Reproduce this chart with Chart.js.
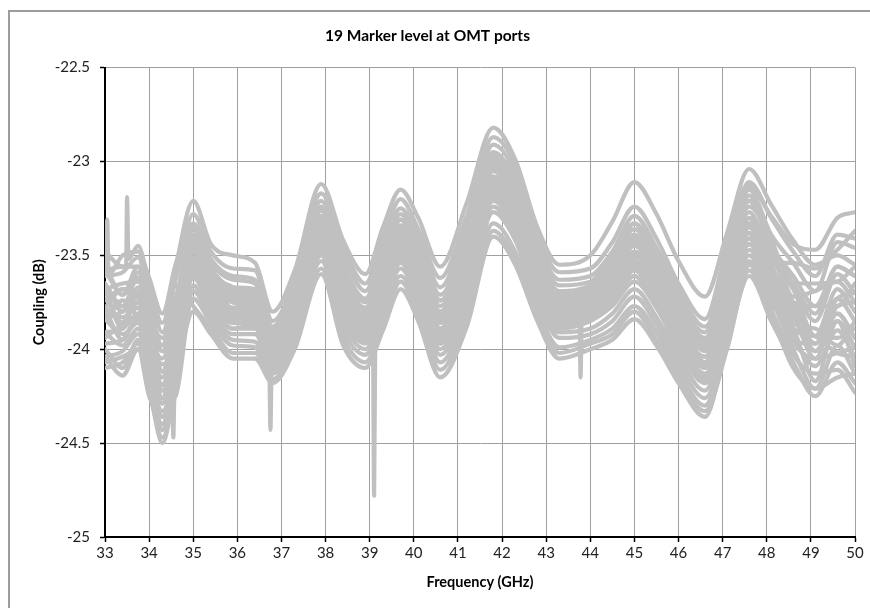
<!DOCTYPE html>
<html><head><meta charset="utf-8">
<script src="https://cdn.jsdelivr.net/npm/chart.js@4.4.1/dist/chart.umd.min.js"></script>
<style>
html,body{margin:0;padding:0;background:#fff;overflow:hidden;}
#wrap{position:relative;width:870px;height:608px;}
#frame{position:absolute;left:8px;top:10px;width:900px;height:700px;border-left:2px solid #9c9c9c;border-top:2px solid #9c9c9c;box-sizing:border-box;}
canvas{position:absolute;left:0;top:0;}
</style></head><body>
<div id="wrap"><div id="frame"></div><canvas id="c" width="870" height="608"></canvas></div>
<script>
const chartTitle = '19 Marker level at OMT ports';
const xTitle = 'Frequency (GHz)';
const yTitle = 'Coupling (dB)';
const xTickValues = [33,34,35,36,37,38,39,40,41,42,43,44,45,46,47,48,49,50];
const xTickLabels = ['33','34','35','36','37','38','39','40','41','42','43','44','45','46','47','48','49','50'];
const yTickValues = [-25,-24.5,-24,-23.5,-23,-22.5];
const yTickLabels = ['-25','-24.5','-24','-23.5','-23','-22.5'];

// frequency samples (GHz)
const freqs = [33.0,33.4,33.75,34.0,34.3,34.6,35.0,35.4,35.9,36.4,36.8,37.3,37.9,38.4,38.9,39.3,39.7,40.1,40.6,41.2,41.8,42.3,42.8,43.3,44.0,44.5,45.0,45.5,46.0,46.6,47.1,47.6,48.1,48.6,49.1,49.6,50.0];

// coupling (dB) per marker trace
const trace01 = [-23.48,-23.56,-23.45,-23.65,-23.86,-23.56,-23.21,-23.44,-23.50,-23.54,-23.80,-23.58,-23.12,-23.42,-23.60,-23.35,-23.15,-23.30,-23.56,-23.22,-22.82,-22.99,-23.35,-23.55,-23.50,-23.32,-23.11,-23.28,-23.53,-23.72,-23.38,-23.04,-23.23,-23.42,-23.55,-23.50,-23.55];
const trace02 = [-23.58,-23.56,-23.56,-23.68,-23.91,-23.63,-23.28,-23.48,-23.57,-23.58,-23.85,-23.63,-23.17,-23.46,-23.65,-23.41,-23.20,-23.36,-23.62,-23.29,-22.87,-23.02,-23.39,-23.59,-23.57,-23.43,-23.24,-23.41,-23.65,-23.84,-23.45,-23.11,-23.30,-23.48,-23.61,-23.39,-23.41];
const trace03 = [-23.52,-23.50,-23.48,-23.62,-23.81,-23.55,-23.33,-23.52,-23.61,-23.63,-23.88,-23.66,-23.21,-23.50,-23.69,-23.45,-23.25,-23.40,-23.67,-23.34,-22.91,-23.06,-23.43,-23.63,-23.61,-23.48,-23.29,-23.46,-23.69,-23.88,-23.57,-23.21,-23.42,-23.65,-23.65,-23.64,-23.56];
const trace04 = [-23.68,-23.65,-23.64,-23.78,-24.01,-23.76,-23.35,-23.54,-23.63,-23.65,-23.89,-23.68,-23.24,-23.55,-23.73,-23.49,-23.28,-23.44,-23.71,-23.39,-22.95,-23.10,-23.46,-23.66,-23.64,-23.51,-23.33,-23.49,-23.73,-23.91,-23.47,-23.13,-23.29,-23.44,-23.47,-23.30,-23.27];
const trace05 = [-23.58,-23.71,-23.56,-23.81,-23.94,-23.73,-23.39,-23.57,-23.67,-23.68,-23.91,-23.71,-23.26,-23.57,-23.75,-23.52,-23.31,-23.47,-23.74,-23.42,-22.98,-23.13,-23.49,-23.69,-23.66,-23.53,-23.36,-23.52,-23.75,-23.94,-23.60,-23.27,-23.51,-23.68,-23.85,-23.60,-23.70];
const trace06 = [-23.78,-23.68,-23.70,-23.84,-24.12,-23.83,-23.41,-23.59,-23.69,-23.70,-23.93,-23.72,-23.29,-23.61,-23.78,-23.55,-23.34,-23.50,-23.77,-23.46,-23.01,-23.16,-23.51,-23.71,-23.68,-23.56,-23.39,-23.55,-23.78,-23.96,-23.54,-23.15,-23.39,-23.54,-23.69,-23.43,-23.46];
const trace07 = [-23.65,-23.77,-23.62,-23.90,-24.05,-23.80,-23.43,-23.61,-23.71,-23.72,-23.94,-23.74,-23.31,-23.63,-23.80,-23.57,-23.36,-23.52,-23.80,-23.48,-23.03,-23.18,-23.53,-23.73,-23.70,-23.59,-23.42,-23.57,-23.80,-23.99,-23.66,-23.33,-23.57,-23.75,-23.93,-23.68,-23.80];
const trace08 = [-23.84,-23.80,-23.75,-23.94,-24.22,-23.90,-23.46,-23.63,-23.73,-23.74,-23.96,-23.76,-23.33,-23.66,-23.82,-23.59,-23.38,-23.54,-23.82,-23.51,-23.05,-23.20,-23.55,-23.75,-23.72,-23.61,-23.45,-23.60,-23.83,-24.01,-23.63,-23.21,-23.45,-23.61,-23.77,-23.56,-23.61];
const trace09 = [-23.71,-23.86,-23.67,-23.97,-24.15,-23.87,-23.48,-23.65,-23.75,-23.76,-23.98,-23.77,-23.35,-23.68,-23.84,-23.61,-23.40,-23.56,-23.84,-23.54,-23.08,-23.23,-23.57,-23.77,-23.74,-23.64,-23.48,-23.63,-23.86,-24.04,-23.72,-23.38,-23.63,-23.82,-24.01,-23.81,-23.94];
const trace10 = [-23.91,-23.89,-23.81,-24.00,-24.29,-23.97,-23.51,-23.67,-23.78,-23.79,-23.99,-23.79,-23.37,-23.70,-23.86,-23.63,-23.42,-23.58,-23.86,-23.56,-23.10,-23.25,-23.59,-23.79,-23.76,-23.66,-23.50,-23.66,-23.88,-24.07,-23.69,-23.30,-23.48,-23.75,-23.77,-23.77,-23.65];
const trace11 = [-23.78,-23.83,-23.78,-24.06,-24.19,-24.01,-23.53,-23.69,-23.80,-23.81,-24.01,-23.81,-23.38,-23.72,-23.88,-23.65,-23.44,-23.60,-23.89,-23.58,-23.12,-23.27,-23.61,-23.81,-23.78,-23.68,-23.53,-23.68,-23.90,-24.09,-23.78,-23.44,-23.66,-23.93,-24.09,-23.90,-24.04];
const trace12 = [-23.97,-23.95,-23.84,-24.03,-24.36,-24.04,-23.55,-23.71,-23.82,-23.83,-24.02,-23.82,-23.40,-23.74,-23.89,-23.67,-23.46,-23.62,-23.90,-23.60,-23.15,-23.30,-23.63,-23.83,-23.79,-23.70,-23.55,-23.70,-23.92,-24.10,-23.75,-23.35,-23.60,-23.79,-23.97,-23.73,-23.85];
const trace13 = [-23.84,-23.92,-23.86,-24.12,-24.26,-24.08,-23.58,-23.73,-23.84,-23.85,-24.04,-23.84,-23.42,-23.76,-23.91,-23.69,-23.48,-23.64,-23.93,-23.63,-23.17,-23.32,-23.65,-23.85,-23.81,-23.72,-23.58,-23.73,-23.95,-24.13,-23.85,-23.50,-23.73,-24.00,-24.21,-23.98,-24.13];
const trace14 = [-24.04,-24.01,-23.92,-24.09,-24.43,-24.11,-23.60,-23.75,-23.86,-23.87,-24.05,-23.86,-23.44,-23.78,-23.93,-23.71,-23.50,-23.66,-23.95,-23.66,-23.19,-23.34,-23.67,-23.87,-23.83,-23.75,-23.61,-23.76,-23.97,-24.16,-23.81,-23.41,-23.60,-23.89,-23.93,-23.94,-23.89];
const trace15 = [-23.91,-23.98,-23.89,-24.16,-24.40,-24.04,-23.62,-23.77,-23.89,-23.89,-24.07,-23.87,-23.46,-23.81,-23.95,-23.74,-23.52,-23.69,-23.97,-23.68,-23.21,-23.36,-23.69,-23.89,-23.85,-23.77,-23.64,-23.78,-24.00,-24.18,-23.91,-23.53,-23.79,-24.03,-24.13,-24.11,-24.23];
const trace16 = [-24.00,-24.10,-23.95,-24.19,-24.50,-24.18,-23.66,-23.80,-23.92,-23.92,-24.09,-23.90,-23.48,-23.83,-23.97,-23.76,-23.54,-23.71,-24.00,-23.71,-23.24,-23.39,-23.71,-23.91,-23.89,-23.81,-23.68,-23.83,-24.04,-24.22,-23.88,-23.47,-23.70,-23.96,-24.05,-24.02,-23.99];
const trace17 = [-24.07,-24.04,-24.00,-24.25,-24.36,-24.25,-23.69,-23.83,-23.95,-23.96,-24.11,-23.92,-23.50,-23.86,-24.00,-23.79,-23.57,-23.74,-24.03,-23.75,-23.27,-23.42,-23.74,-23.94,-23.92,-23.85,-23.72,-23.87,-24.08,-24.26,-23.97,-23.61,-23.85,-24.07,-24.25,-24.07,-24.18];
const trace18 = [-24.10,-24.07,-23.97,-24.22,-24.47,-24.22,-23.73,-23.86,-23.98,-23.99,-24.13,-23.95,-23.53,-23.90,-24.03,-23.82,-23.61,-23.77,-24.07,-23.79,-23.33,-23.48,-23.79,-23.99,-23.95,-23.89,-23.77,-23.91,-24.12,-24.30,-23.94,-23.55,-23.76,-23.89,-24.17,-23.85,-24.09];
const trace19 = [-23.61,-23.59,-23.51,-23.75,-23.98,-23.66,-23.77,-23.89,-24.02,-24.02,-24.16,-23.98,-23.57,-23.94,-24.07,-23.86,-23.64,-23.81,-24.11,-23.83,-23.37,-23.52,-23.82,-24.02,-23.97,-23.92,-23.80,-23.95,-24.15,-24.33,-24.00,-23.58,-23.82,-24.10,-24.21,-24.15,-24.13];
const trace20 = [-24.04,-24.14,-24.00,-24.19,-24.43,-24.15,-23.80,-23.92,-24.05,-24.05,-24.18,-24.00,-23.60,-23.98,-24.10,-23.90,-23.68,-23.85,-24.15,-23.88,-23.40,-23.55,-23.85,-24.05,-24.00,-23.95,-23.84,-23.98,-24.18,-24.36,-23.95,-23.55,-23.54,-23.54,-23.57,-23.47,-23.37];
const trace21 = [-23.65,-23.80,-23.59,-23.87,-24.19,-23.87,-23.42,-23.65,-23.78,-23.73,-24.01,-23.79,-23.26,-23.63,-23.78,-23.60,-23.36,-23.58,-23.83,-23.58,-23.02,-23.14,-23.58,-23.80,-23.77,-23.60,-23.40,-23.63,-23.82,-24.07,-23.69,-23.30,-23.60,-23.79,-24.01,-23.85,-23.99];
const trace22 = [-23.74,-23.68,-23.73,-23.84,-24.01,-23.94,-23.39,-23.60,-23.67,-23.76,-23.93,-23.75,-23.31,-23.69,-23.83,-23.54,-23.31,-23.49,-23.80,-23.45,-22.97,-23.20,-23.50,-23.73,-23.66,-23.51,-23.44,-23.53,-23.86,-23.98,-23.57,-23.24,-23.42,-23.72,-23.69,-23.64,-23.75];
const trace23 = [-23.84,-23.74,-23.84,-23.97,-24.08,-23.97,-23.48,-23.70,-23.83,-23.81,-23.97,-23.83,-23.36,-23.72,-23.90,-23.63,-23.44,-23.55,-23.89,-23.55,-23.08,-23.26,-23.63,-23.78,-23.71,-23.67,-23.48,-23.70,-23.89,-24.04,-23.75,-23.35,-23.54,-23.86,-23.89,-23.98,-23.85];
const trace24 = [-23.68,-23.89,-23.70,-24.00,-24.29,-23.90,-23.51,-23.72,-23.86,-23.84,-24.03,-23.85,-23.41,-23.78,-23.88,-23.68,-23.48,-23.63,-23.91,-23.65,-23.14,-23.32,-23.65,-23.83,-23.79,-23.73,-23.56,-23.67,-23.92,-24.14,-23.72,-23.38,-23.66,-23.82,-24.05,-23.77,-23.75];
const trace25 = [-23.55,-23.71,-23.62,-23.75,-24.12,-23.80,-23.36,-23.57,-23.72,-23.71,-23.91,-23.77,-23.29,-23.57,-23.80,-23.57,-23.39,-23.52,-23.74,-23.48,-22.99,-23.17,-23.53,-23.75,-23.69,-23.54,-23.33,-23.56,-23.76,-24.01,-23.63,-23.18,-23.45,-23.65,-23.81,-23.56,-23.61];
const trace26 = [-23.81,-23.77,-23.78,-23.90,-24.26,-23.83,-23.45,-23.67,-23.75,-23.79,-23.99,-23.81,-23.34,-23.66,-23.85,-23.65,-23.42,-23.60,-23.86,-23.52,-23.05,-23.23,-23.55,-23.80,-23.74,-23.64,-23.51,-23.60,-23.86,-24.10,-23.66,-23.33,-23.51,-23.68,-23.93,-23.73,-23.70];
const trace27 = [-23.94,-23.86,-23.75,-24.09,-24.33,-24.11,-23.56,-23.75,-23.89,-23.87,-24.05,-23.87,-23.43,-23.75,-23.93,-23.74,-23.51,-23.66,-23.97,-23.62,-23.20,-23.33,-23.68,-23.85,-23.82,-23.70,-23.61,-23.77,-23.95,-24.17,-23.81,-23.41,-23.70,-23.89,-23.93,-24.02,-24.04];
const trace28 = [-23.78,-23.95,-23.81,-23.94,-24.22,-24.04,-23.54,-23.62,-23.80,-23.84,-23.95,-23.77,-23.38,-23.81,-23.85,-23.65,-23.46,-23.69,-23.91,-23.58,-23.11,-23.29,-23.60,-23.88,-23.84,-23.67,-23.53,-23.74,-23.99,-24.07,-23.78,-23.44,-23.57,-23.96,-23.97,-23.81,-23.94];

// narrow glitches seen on single traces: [frequency, dB]
const glitch03 = [[33.03,-23.55],[33.05,-23.31],[33.08,-23.60]];
const glitch01 = [[33.48,-23.55],[33.50,-23.19],[33.53,-23.52]];
const glitch17 = [[34.52,-24.28],[34.55,-24.47],[34.57,-24.27]];
const glitch13 = [[36.72,-24.02],[36.75,-24.43],[36.78,-24.05]];
const glitch10 = [[39.07,-23.85],[39.10,-24.78],[39.13,-23.80]];
const glitch08 = [[43.75,-23.75],[43.78,-24.15],[43.81,-23.75]];

const traces = [trace01,trace02,trace03,trace04,trace05,trace06,trace07,trace08,trace09,trace10,
                trace11,trace12,trace13,trace14,trace15,trace16,trace17,trace18,trace19,trace20,
                trace21,trace22,trace23,trace24,trace25,trace26,trace27,trace28];
const glitches = {0: glitch01, 2: glitch03, 7: glitch08, 9: glitch10, 12: glitch13, 16: glitch17};

const FONT = "'Lato', 'Open Sans', sans-serif";

const datasets = traces.map((vals, k) => {
  let pts = freqs.map((f, i) => ({x: f, y: vals[i]}));
  if (glitches[k]) {
    pts = pts.concat(glitches[k].map(p => ({x: p[0], y: p[1]})));
    pts.sort((a, b) => a.x - b.x);
  }
  return {
    label: 'Trace ' + (k + 1),
    data: pts,
    borderColor: '#c0c0c0',
    backgroundColor: '#c0c0c0',
    borderWidth: 4.2,
    pointRadius: 0,
    fill: false,
    cubicInterpolationMode: 'monotone',
    borderJoinStyle: 'round',
    borderCapStyle: 'round'
  };
});

new Chart(document.getElementById('c'), {
  type: 'line',
  data: { datasets },
  options: {
    responsive: false,
    animation: false,
    devicePixelRatio: 1,
    layout: { padding: { left: 0, right: 15, top: 0, bottom: 0 } },
    plugins: {
      legend: { display: false },
      tooltip: { enabled: false },
      title: {
        display: true,
        text: chartTitle,
        color: '#000',
        font: { family: FONT, size: 15.5, weight: 'bold' },
        padding: { top: 27, bottom: 22 }
      }
    },
    scales: {
      x: {
        type: 'linear',
        min: 33, max: 50,
        afterFit: s => { s.height = 71; },
        afterBuildTicks: s => { s.ticks = xTickValues.map(v => ({value: v})); },
        ticks: {
          autoSkip: false, maxRotation: 0, padding: 2,
          color: '#222',
          font: { family: FONT, size: 15 },
          callback: v => xTickLabels[xTickValues.indexOf(v)]
        },
        grid: { color: '#a0a0a0', lineWidth: 1, tickColor: '#000', tickLength: 5, tickWidth: 1.5 },
        border: { color: '#000', width: 2 },
        title: {
          display: true, text: xTitle, color: '#000',
          font: { family: FONT, size: 14.5, weight: 'bold' },
          padding: { top: 0, bottom: 17 }
        }
      },
      y: {
        type: 'linear',
        min: -25, max: -22.5,
        afterFit: s => { s.width = 105; },
        afterBuildTicks: s => { s.ticks = yTickValues.map(v => ({value: v})); },
        ticks: {
          padding: 10,
          color: '#222',
          font: { family: FONT, size: 15 },
          callback: v => yTickLabels[yTickValues.indexOf(v)]
        },
        grid: { color: '#a0a0a0', lineWidth: 1, tickColor: '#000', tickLength: 5, tickWidth: 1.5 },
        border: { color: '#000', width: 2 },
        title: {
          display: true, text: yTitle, color: '#000',
          font: { family: FONT, size: 14.5, weight: 'bold' },
          padding: { top: 31, bottom: 0 }
        }
      }
    }
  }
});
</script>
</body></html>
